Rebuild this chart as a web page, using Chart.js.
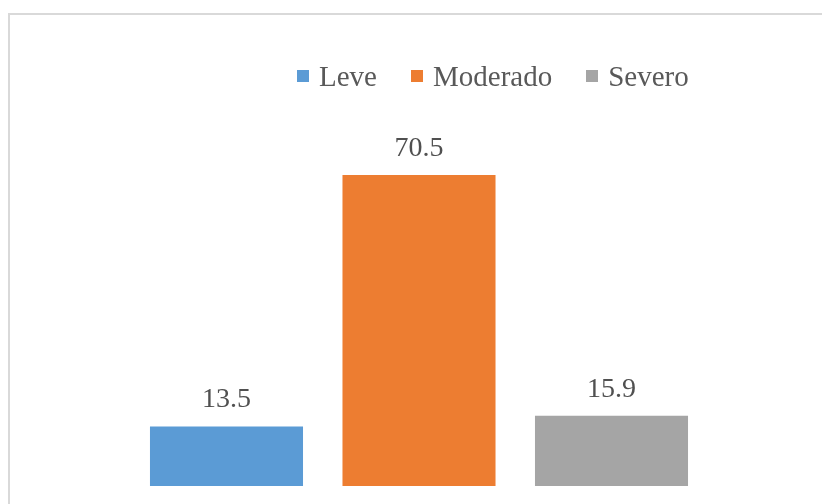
<!DOCTYPE html>
<html>
<head>
<meta charset="utf-8">
<script src="https://cdn.jsdelivr.net/npm/chart.js@4"></script>
<style>
  html, body { margin: 0; padding: 0; background: #fff; }
  #marco { position: absolute; left: 8px; top: 13px; width: 814px; height: 491px;
           border-top: 2px solid #d9d9d9; border-left: 2px solid #d9d9d9; }
  #leyenda { position: absolute; left: 297px; top: 61px; display: flex; align-items: center;
             font-family: "Liberation Serif", "Times New Roman", serif; font-size: 29px;
             line-height: 30px; color: #595959; }
  #leyenda .item { display: flex; align-items: center; margin-right: 34px; }
  #leyenda .caja { width: 12px; height: 12px; margin-right: 10px; }
  #miGrafico { position: absolute; left: 0; top: 0; }
</style>
</head>
<body>
<div id="marco"></div>
<canvas id="miGrafico" width="822" height="504"></canvas>
<div id="leyenda"></div>
<script>
const series = ['Leve', 'Moderado', 'Severo'];
const valores = [13.5, 70.5, 15.9];
const colores = ['#5b9bd5', '#ed7d31', '#a5a5a5'];

// Etiquetas de datos encima de cada barra
const etiquetas = {
    id: 'etiquetas',
    afterDatasetsDraw(chart) {
        const ctx = chart.ctx;
        ctx.save();
        ctx.font = '28px "Liberation Serif", "Times New Roman", serif';
        ctx.fillStyle = '#505050';
        ctx.textAlign = 'center';
        ctx.textBaseline = 'alphabetic';
        chart.data.datasets.forEach((ds, i) => {
            chart.getDatasetMeta(i).data.forEach((bar, j) => {
                ctx.fillText(ds.data[j].toFixed(1), bar.x, bar.y - 19);
            });
        });
        ctx.restore();
    }
};

function armarLeyenda() {
    const box = document.getElementById('leyenda');
    box.innerHTML = series.map((s, i) =>
        `<span class="item"><span class="caja" style="background:${colores[i]}"></span>${s}</span>`
    ).join('');
}

const ctx = document.getElementById('miGrafico').getContext('2d');
new Chart(ctx, {
    type: 'bar',
    data: {
        labels: [''],
        datasets: series.map((s, i) => ({
            label: s,
            data: [valores[i]],
            backgroundColor: colores[i],
            categoryPercentage: 0.7237,
            barPercentage: 0.795
        }))
    },
    options: {
        responsive: false,
        animation: false,
        layout: { padding: { left: 20, right: 4, top: 133, bottom: 18 } },
        plugins: { legend: { display: false }, tooltip: { enabled: false } },
        scales: {
            x: { display: false },
            y: { display: false, min: 0, max: 80 }
        }
    },
    plugins: [etiquetas]
});
armarLeyenda();
</script>
</body>
</html>
